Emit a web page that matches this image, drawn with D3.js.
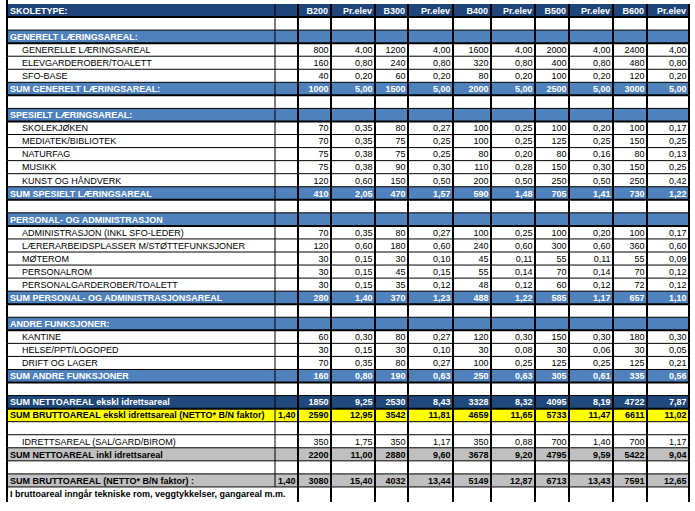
<!DOCTYPE html>
<html lang="no">
<head>
<meta charset="UTF-8">
<title>Arealprogram skoletyper</title>
<script src="https://d3js.org/d3.v7.min.js"></script>
<style>
    body { margin: 0; background: #fff; }
    svg { display: block; font-family: "Liberation Sans", Arial, sans-serif; font-size: 9px; }
</style>
</head>
<body>
<svg id="tabell" width="695" height="511"></svg>
<script>
// ---- data ----
const schoolTypes = ["B200", "B300", "B400", "B500", "B600"];

const rowLabels = [
    "SKOLETYPE:", "",
    "GENERELT LÆRINGSAREAL:", "GENERELLE LÆRINGSAREAL", "ELEVGARDEROBER/TOALETT", "SFO-BASE", "SUM GENERELT LÆRINGSAREAL:", "",
    "SPESIELT LÆRINGSAREAL:", "SKOLEKJØKEN", "MEDIATEK/BIBLIOTEK", "NATURFAG", "MUSIKK", "KUNST OG HÅNDVERK", "SUM SPESIELT LÆRINGSAREAL", "",
    "PERSONAL- OG ADMINISTRASJON", "ADMINISTRASJON (INKL SFO-LEDER)", "LÆRERARBEIDSPLASSER M/STØTTEFUNKSJONER", "MØTEROM", "PERSONALROM", "PERSONALGARDEROBER/TOALETT", "SUM PERSONAL- OG ADMINISTRASJONSAREAL", "",
    "ANDRE FUNKSJONER:", "KANTINE", "HELSE/PPT/LOGOPED", "DRIFT OG LAGER", "SUM ANDRE FUNKSJONER", "",
    "SUM NETTOAREAL ekskl idrettsareal", "SUM BRUTTOAREAL ekskl idrettsareal (NETTO* B/N faktor)", "",
    "IDRETTSAREAL (SAL/GARD/BIROM)", "SUM NETTOAREAL inkl idrettsareal", "",
    "SUM BRUTTOAREAL (NETTO* B/N faktor) :", "I bruttoareal inngår tekniske rom, veggtykkelser, gangareal m.m."
];

const rowKinds = [
    "head", "blank",
    "section", "item", "item", "item", "sum", "blank",
    "section", "item", "item", "item", "item", "item", "sum", "blank",
    "section", "item", "item", "item", "item", "item", "sum", "blank",
    "section", "item", "item", "item", "sum", "blank",
    "netto", "yellow", "blank",
    "item", "gray", "blank",
    "gray", "note"
];

// values for the rows that carry numbers, in table order
const bnFactor = [null, null, null, null, null, null, null, null, null, null, null, null, null, null, null, null, null, null, null, null, null, 1.40, null, null, 1.40];
const areaB200 = [800, 160, 40, 1000, 70, 70, 75, 75, 120, 410, 70, 120, 30, 30, 30, 280, 60, 30, 70, 160, 1850, 2590, 350, 2200, 3080];
const perB200  = [4.00, 0.80, 0.20, 5.00, 0.35, 0.35, 0.38, 0.38, 0.60, 2.05, 0.35, 0.60, 0.15, 0.15, 0.15, 1.40, 0.30, 0.15, 0.35, 0.80, 9.25, 12.95, 1.75, 11.00, 15.40];
const areaB300 = [1200, 240, 60, 1500, 80, 75, 75, 90, 150, 470, 80, 180, 30, 45, 35, 370, 80, 30, 80, 190, 2530, 3542, 350, 2880, 4032];
const perB300  = [4.00, 0.80, 0.20, 5.00, 0.27, 0.25, 0.25, 0.30, 0.50, 1.57, 0.27, 0.60, 0.10, 0.15, 0.12, 1.23, 0.27, 0.10, 0.27, 0.63, 8.43, 11.81, 1.17, 9.60, 13.44];
const areaB400 = [1600, 320, 80, 2000, 100, 100, 80, 110, 200, 590, 100, 240, 45, 55, 48, 488, 120, 30, 100, 250, 3328, 4659, 350, 3678, 5149];
const perB400  = [4.00, 0.80, 0.20, 5.00, 0.25, 0.25, 0.20, 0.28, 0.50, 1.48, 0.25, 0.60, 0.11, 0.14, 0.12, 1.22, 0.30, 0.08, 0.25, 0.63, 8.32, 11.65, 0.88, 9.20, 12.87];
const areaB500 = [2000, 400, 100, 2500, 100, 125, 80, 150, 250, 705, 100, 300, 55, 70, 60, 585, 150, 30, 125, 305, 4095, 5733, 700, 4795, 6713];
const perB500  = [4.00, 0.80, 0.20, 5.00, 0.20, 0.25, 0.16, 0.30, 0.50, 1.41, 0.20, 0.60, 0.11, 0.14, 0.12, 1.17, 0.30, 0.06, 0.25, 0.61, 8.19, 11.47, 1.40, 9.59, 13.43];
const areaB600 = [2400, 480, 120, 3000, 100, 150, 80, 150, 250, 730, 100, 360, 55, 70, 72, 657, 180, 30, 125, 335, 4722, 6611, 700, 5422, 7591];
const perB600  = [4.00, 0.80, 0.20, 5.00, 0.17, 0.25, 0.13, 0.25, 0.42, 1.22, 0.17, 0.60, 0.09, 0.12, 0.12, 1.10, 0.30, 0.05, 0.21, 0.56, 7.87, 11.02, 1.17, 9.04, 12.65];

// ---- layout ----
const colEdges = [7, 275, 298, 331, 375, 408, 453, 491, 535, 569, 613, 647, 689];
const fills = {
    head: "#1f457a", blank: "#fff", section: "#4f81bd", item: "#fff", sum: "#4f81bd",
    netto: "#1f497d", yellow: "#ffff00", gray: "#c0c0c0", note: "#fff"
};
const whiteText = new Set(["head", "section", "sum", "netto"]);
const valued = new Set(["item", "sum", "netto", "yellow", "gray"]);

const svg = d3.select("#tabell");
const y = d3.scaleBand().domain(d3.range(rowKinds.length)).range([4, 500]);
const h = y.bandwidth();

let vi = -1;
const rows = rowKinds.map((k, i) => ({ i, k, label: rowLabels[i], v: valued.has(k) ? ++vi : null }));

const loc = d3.formatLocale({ decimal: ",", thousands: " ", grouping: [3], currency: ["", ""] });
const pr = loc.format(".2f");
const whole = loc.format("d");

// value columns: [column index, values, formatter]
const valueCols = [[1, bnFactor, pr]];
[[areaB200, perB200], [areaB300, perB300], [areaB400, perB400], [areaB500, perB500], [areaB600, perB600]]
    .forEach((pair, j) => {
        valueCols.push([2 + j * 2, pair[0], whole]);
        valueCols.push([3 + j * 2, pair[1], pr]);
    });

// row backgrounds
svg.selectAll("rect.row")
    .data(rows)
    .join("rect")
    .attr("class", "row")
    .attr("x", colEdges[0])
    .attr("y", d => y(d.i))
    .attr("width", colEdges[colEdges.length - 1] - colEdges[0])
    .attr("height", h)
    .attr("fill", d => fills[d.k]);

// horizontal rules, heavier under the blue rows
const heavy = new Set(["head", "section", "sum", "netto"]);
svg.selectAll("line.h")
    .data(d3.range(1, rowKinds.length))
    .join("line")
    .attr("x1", colEdges[0]).attr("x2", colEdges[colEdges.length - 1])
    .attr("y1", d => y(d)).attr("y2", d => y(d))
    .attr("stroke", "#000")
    .attr("stroke-width", d => heavy.has(rowKinds[d - 1]) ? 2 : 1);

// vertical rules, per row so the note row can span label+factor
const vSegs = [];
rows.forEach(r => colEdges.forEach((x, c) => {
    if (r.k === "note" && c === 1) return;
    vSegs.push({ x, c, top: y(r.i), bottom: y(r.i) + h + (r.k === "note" ? 2 : 0) });
}));
svg.selectAll("line.v")
    .data(vSegs)
    .join("line")
    .attr("x1", d => d.x).attr("x2", d => d.x)
    .attr("y1", d => d.top).attr("y2", d => d.bottom)
    .attr("stroke", "#000")
    .attr("stroke-width", d => d.c === 1 ? 1 : 2);
svg.append("line")
    .attr("x1", colEdges[0]).attr("x2", colEdges[0])
    .attr("y1", 0).attr("y2", 4)
    .attr("stroke", "#000").attr("stroke-width", 2);

const baseY = d => y(d.i) + h / 2 + 3.3;
const textColor = d => whiteText.has(d.k) ? "#fff" : "#000";
const weight = d => d.k === "item" ? "normal" : "bold";

// labels
svg.selectAll("text.label")
    .data(rows.filter(r => r.label))
    .join("text")
    .attr("class", "label")
    .attr("x", d => d.k === "item" ? 22 : 10)
    .attr("y", baseY)
    .attr("fill", textColor)
    .attr("font-weight", weight)
    .text(d => d.label);

// header cells
const headTexts = [];
schoolTypes.forEach((s, j) => {
    headTexts.push({ c: 2 + j * 2, t: s });
    headTexts.push({ c: 3 + j * 2, t: "Pr.elev" });
});
svg.selectAll("text.head")
    .data(headTexts)
    .join("text")
    .attr("class", "head")
    .attr("x", d => colEdges[d.c + 1] - 3)
    .attr("y", baseY({ i: 0 }))
    .attr("text-anchor", "end")
    .attr("fill", "#fff")
    .attr("font-weight", "bold")
    .text(d => d.t);

// numbers
const cells = [];
rows.filter(r => r.v !== null).forEach(r => valueCols.forEach(([c, vals, f]) => {
    if (vals[r.v] === null) return;
    cells.push({ i: r.i, k: r.k, c, t: f(vals[r.v]) });
}));
svg.selectAll("text.num")
    .data(cells)
    .join("text")
    .attr("class", "num")
    .attr("x", d => colEdges[d.c + 1] - 2.5)
    .attr("y", baseY)
    .attr("text-anchor", "end")
    .attr("fill", textColor)
    .attr("font-weight", weight)
    .text(d => d.t);
</script>
</body>
</html>
